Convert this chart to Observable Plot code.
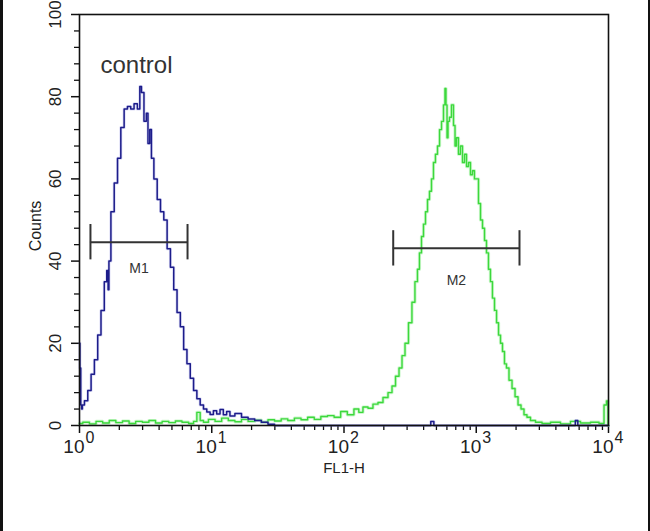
<!DOCTYPE html>
<html>
<head>
<meta charset="utf-8">
<script src="https://cdn.jsdelivr.net/npm/d3@7"></script>
<script src="https://cdn.jsdelivr.net/npm/@observablehq/plot@0.6"></script>
<style>
  html, body { margin: 0; padding: 0; background: #fff; }
  #wrap { position: relative; width: 650px; height: 531px; overflow: hidden; }
  #border { position: absolute; left: 0; top: 0; width: 650px; height: 531px; box-sizing: border-box;
            border-left: 3px solid #111; border-right: 2px solid #111; pointer-events: none; }
</style>
</head>
<body>
<div id="wrap"><div id="chart"></div><div id="border"></div></div>
<script>
// ---- data (FL1-H value, counts) ----
const blueX = [1.00, 1.015, 1.03, 1.045, 1.059, 1.122, 1.189, 1.259, 1.334, 1.413, 1.496, 1.585, 1.63, 1.66, 1.679,
  1.778, 1.884, 1.995, 2.113, 2.239, 2.371, 2.512, 2.661, 2.818, 2.90, 2.985, 3.162, 3.24, 3.35, 3.45, 3.548,
  3.758, 3.981, 4.217, 4.467, 4.732, 5.012, 5.309, 5.623, 5.957, 6.31, 6.683, 7.079, 7.499, 7.943, 8.414, 8.913,
  9.441, 10.0, 10.59, 11.22, 11.89, 12.59, 13.34, 14.13, 15.85, 17.78, 19.95, 22.39, 25.12, 28.18, 31.62,
  440, 466.7, 490, 5500, 5728, 6000, 10000];
const blueY = [20, 14, 5, 4, 5, 6, 8.5, 12.5, 16, 22, 28, 35, 37.7, 33, 40,
  52, 59, 65, 72.5, 77, 77.6, 77, 78.3, 77, 82.5, 81, 74, 76, 68.6, 72, 65,
  60, 55, 52, 50, 43, 38.5, 33, 27.5, 24, 18.5, 15, 11.5, 8.5, 6.5, 5, 4,
  3.3, 2.7, 3.6, 2.8, 3.9, 2.6, 3.4, 2.3, 2.9, 2.0, 1.6, 1.2, 0.8, 0.3, 0,
  0, 1, 0, 0, 1.2, 0, 0];

const greenX = [1.00, 1.122, 1.259, 1.413, 1.585, 1.778, 1.995, 2.239, 2.512, 2.818, 3.162, 3.548, 3.981, 4.467,
  5.012, 5.623, 6.31, 7.079, 7.499, 7.943, 8.414, 8.913, 10.0, 11.22, 12.59, 14.13, 15.85, 17.78, 19.95, 22.39,
  25.12, 28.18, 31.62, 35.48, 39.81, 44.67, 50.12, 56.23, 63.1, 70.79, 79.43, 89.13, 100, 112.2, 125.9,
  133, 145.5, 158.5, 173, 188.7, 206, 224.7, 236.8, 254, 267.5, 281.8, 297, 318, 335, 353, 365.6, 378.5, 392.3,
  406, 420.7, 435.5, 450.8, 466.7, 483, 500, 518.8, 537, 556, 575, 585, 595.7, 606.7, 616.6, 638.3, 660.7,
  685.5, 696.6, 721, 746.5, 772.7, 801.7, 829.8, 859, 889, 920.4, 952.8, 986, 1021, 1059, 1096, 1135, 1175,
  1216, 1259, 1303, 1349, 1400, 1449, 1500, 1552, 1607, 1663, 1722, 1816, 1914, 2018, 2123, 2239, 2355,
  2483, 2661, 2958, 3342, 3972, 4732, 5623, 6699, 7980, 9016, 9490, 9820, 10000];
const greenY = [0.5, 0.8, 0.4, 1.0, 0.6, 1.2, 0.7, 1.1, 0.5, 1.0, 0.8, 1.2, 0.6, 1.0,
  0.7, 1.1, 0.8, 0.5, 1.0, 3.2, 1.2, 0.8, 1.5, 1.0, 1.8, 1.2, 0.9, 1.5, 1.0, 1.3,
  0.8, 1.4, 1.1, 1.6, 1.2, 1.8, 1.4, 2.0, 1.5, 2.2, 2.4, 2.0, 3.4, 2.6, 4.0,
  3.2, 4.5, 4.2, 5.2, 5.6, 6.8, 8.0, 9.6, 12, 14, 17, 20, 25, 30, 35, 38, 42, 46,
  49, 52, 55, 57, 60, 64, 66, 68, 72, 74, 78, 82, 78, 70, 74, 75, 78,
  73, 68, 70, 66, 68, 64, 66, 63, 64, 61, 62, 60, 60, 54, 50, 48, 45,
  42, 38, 35, 31, 28, 25, 22, 20, 18, 15, 14, 11, 9, 7, 5, 4, 2.6,
  2, 1.2, 0.8, 0.5, 0.8, 0.4, 1.0, 0.6, 0.8, 0.5, 5, 6, 0];

// markers
const markerNames = ["M1", "M2"];
const markerStart = [1.21, 235.6];
const markerEnd = [6.56, 2123];
const markerY = [44.6, 43.1];
const markerLabelY = [38.3, 35.3];

// axes
const xMajorTicks = [1, 10, 100, 1000, 10000];
const xTickExponents = ["0", "1", "2", "3", "4"];
const xMinorTicks = [2,3,4,5,6,7,8,9, 20,30,40,50,60,70,80,90, 200,300,400,500,600,700,800,900,
  2000,3000,4000,5000,6000,7000,8000,9000];
const yMajorTicks = [0, 20, 40, 60, 80, 100];
const yTickLabels = ["0", "20", "40", "60", "80", "100"];
const yMinorTicks = [4,8,12,16, 24,28,32,36, 44,48,52,56, 64,68,72,76, 84,88,92,96];
const xLabel = "FL1-H";
const yLabel = "Counts";
const sampleLabel = "control";

// ---- build ----
const blue = blueX.map((x, i) => ({x, y: blueY[i]}));
const green = greenX.map((x, i) => ({x, y: greenY[i]}));
const markers = markerNames.map((name, i) => ({name, x1: markerStart[i], x2: markerEnd[i], y: markerY[i],
  mid: Math.sqrt(markerStart[i] * markerEnd[i]), ly: markerLabelY[i]}));
const caps = markers.flatMap(m => [{x: m.x1, y: m.y}, {x: m.x2, y: m.y}]);
const capHalf = 4.3;

const font = "'Liberation Sans', Arial, sans-serif";

const chart = Plot.plot({
  width: 650, height: 531,
  marginLeft: 79, marginRight: 42, marginTop: 14, marginBottom: 106,
  style: {fontFamily: font, background: "#fff", overflow: "visible"},
  x: {type: "log", domain: [1, 10000]},
  y: {domain: [0, 100]},
  marks: [
    Plot.axisX({ticks: xMinorTicks, tickSize: 5, tickFormat: () => "", stroke: "#111", strokeWidth: 1.3, label: null}),
    Plot.axisX({ticks: xMajorTicks, tickSize: 8, tickFormat: () => "", stroke: "#111", strokeWidth: 1.5, label: null}),
    Plot.axisY({ticks: yMinorTicks, tickSize: 5, tickFormat: () => "", stroke: "#111", strokeWidth: 1.3, label: null}),
    Plot.axisY({ticks: yMajorTicks, tickSize: 8, tickFormat: () => "", stroke: "#111", strokeWidth: 1.5, label: null}),
    Plot.line(green, {x: "x", y: "y", curve: "step", stroke: "#9af09a", strokeWidth: 3.2, strokeOpacity: 0.5}),
    Plot.line(green, {x: "x", y: "y", curve: "step", stroke: "#3cd83c", strokeWidth: 1.4}),
    Plot.line(blue, {x: "x", y: "y", curve: "step", stroke: "#8888dd", strokeWidth: 3, strokeOpacity: 0.3}),
    Plot.line(blue, {x: "x", y: "y", curve: "step", stroke: "#1c1c8a", strokeWidth: 1.5}),
    Plot.frame({stroke: "#111", strokeWidth: 1.6}),
    Plot.ruleY(markers, {x1: "x1", x2: "x2", y: "y", stroke: "#333", strokeWidth: 2}),
    Plot.ruleX(caps, {x: "x", y1: d => d.y - capHalf, y2: d => d.y + capHalf, stroke: "#333", strokeWidth: 2}),
    Plot.text(markers, {x: "mid", y: "ly", text: "name", fontSize: 14, fill: "#333"}),
    // x tick labels 10^n
    Plot.text(xMajorTicks, {x: d => d, frameAnchor: "bottom", text: () => "10", textAnchor: "end", dx: 5, dy: 27,
      fontSize: 19, fill: "#222"}),
    Plot.text(xMajorTicks, {x: d => d, frameAnchor: "bottom", text: (d, i) => xTickExponents[i], textAnchor: "start",
      dx: 6, dy: 17, fontSize: 16, fill: "#222"}),
    // y tick labels rotated
    Plot.text(yMajorTicks, {y: d => d, frameAnchor: "left", text: (d, i) => yTickLabels[i], rotate: -90, dx: -24,
      textAnchor: "middle", fontSize: 17, fill: "#222"}),
    Plot.text([xLabel], {frameAnchor: "bottom", text: d => d, dy: 47, fontSize: 15, fill: "#222"}),
    Plot.text([yLabel], {frameAnchor: "left", text: d => d, rotate: -90, dx: -44, dy: 6, textAnchor: "middle",
      fontSize: 16, fill: "#222"}),
    Plot.text([sampleLabel], {frameAnchor: "top-left", text: d => d, textAnchor: "start", dx: 21, dy: 41, fontSize: 24, fill: "#333"})
  ]
});
document.getElementById("chart").appendChild(chart);
</script>
</body>
</html>
